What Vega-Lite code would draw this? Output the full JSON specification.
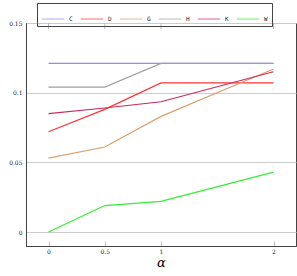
{
  "$schema": "https://vega.github.io/schema/vega-lite/v6.json",
  "width": 270,
  "height": 223,
  "autosize": {"type": "none"},
  "padding": {"left": 26, "top": 23, "right": 1, "bottom": 30},
  "background": "white",
  "config": {
    "view": {"stroke": "#444", "strokeWidth": 1},
    "font": "DejaVu Serif"
  },
  "data": {
    "values": [
      {"series": "C", "alpha": 0, "value": 0.121},
      {"series": "C", "alpha": 0.5, "value": 0.121},
      {"series": "C", "alpha": 1, "value": 0.121},
      {"series": "C", "alpha": 2, "value": 0.121},
      {"series": "D", "alpha": 0, "value": 0.072},
      {"series": "D", "alpha": 0.5, "value": 0.088},
      {"series": "D", "alpha": 1, "value": 0.107},
      {"series": "D", "alpha": 2, "value": 0.107},
      {"series": "G", "alpha": 0, "value": 0.053},
      {"series": "G", "alpha": 0.5, "value": 0.061},
      {"series": "G", "alpha": 1, "value": 0.083},
      {"series": "G", "alpha": 2, "value": 0.117},
      {"series": "H", "alpha": 0, "value": 0.104},
      {"series": "H", "alpha": 0.5, "value": 0.104},
      {"series": "H", "alpha": 1, "value": 0.121},
      {"series": "H", "alpha": 2, "value": 0.121},
      {"series": "K", "alpha": 0, "value": 0.085},
      {"series": "K", "alpha": 0.5, "value": 0.089},
      {"series": "K", "alpha": 1, "value": 0.0935},
      {"series": "K", "alpha": 2, "value": 0.115},
      {"series": "W", "alpha": 0, "value": 0.0},
      {"series": "W", "alpha": 0.5, "value": 0.019},
      {"series": "W", "alpha": 1, "value": 0.022},
      {"series": "W", "alpha": 2, "value": 0.043}
    ]
  },
  "layer": [
    {
      "mark": {"type": "line", "strokeWidth": 1.2},
      "encoding": {
        "x": {
          "field": "alpha", "type": "quantitative",
          "scale": {"domain": [-0.2, 2.2], "nice": false, "zero": false},
          "axis": {
            "values": [0, 0.5, 1, 2], "format": "~g", "grid": false,
            "title": "α", "titleFont": "DejaVu Serif", "titleFontStyle": "italic",
            "titleFontWeight": "normal", "titleFontSize": 13, "titlePadding": 2,
            "labelFont": "DejaVu Serif", "labelFontSize": 6, "labelColor": "#222",
            "tickSize": -5, "tickColor": "#bbb", "labelPadding": 7,
            "domainColor": "#444"
          }
        },
        "y": {
          "field": "value", "type": "quantitative",
          "scale": {"domain": [-0.01, 0.15], "nice": false, "zero": false},
          "axis": {
            "values": [0, 0.05, 0.1, 0.15], "format": "~g", "grid": true,
            "gridColor": "#ccc", "title": null,
            "labelFont": "DejaVu Serif", "labelFontSize": 6, "labelColor": "#222",
            "ticks": false, "labelPadding": 4, "domainColor": "#444"
          }
        },
        "color": {
          "field": "series", "type": "nominal",
          "scale": {
            "domain": ["C", "D", "G", "H", "K", "W"],
            "range": ["#8c8cf5", "#ff3333", "#d9a070", "#a0a0a0", "#cc2a5c", "#33ee33"]
          },
          "legend": {
            "orient": "none", "legendX": 11, "legendY": -20,
            "direction": "horizontal", "columns": 6, "title": null,
            "symbolType": "stroke", "symbolSize": 500, "symbolStrokeWidth": 1.2,
            "symbolOpacity": 0.6,
            "labelFont": "DejaVu Sans Mono", "labelFontSize": 6, "labelColor": "#222",
            "labelOffset": 4, "columnPadding": 5,
            "strokeColor": "#444", "padding": 4
          }
        }
      }
    },
    {
      "mark": {"type": "rule", "color": "#bbb"},
      "data": {"values": [{"alpha": 0}, {"alpha": 0.5}, {"alpha": 1}, {"alpha": 2}]},
      "encoding": {
        "x": {"field": "alpha", "type": "quantitative"},
        "y": {"datum": 0.15, "type": "quantitative"},
        "y2": {"datum": 0.1457}
      }
    }
  ]
}
